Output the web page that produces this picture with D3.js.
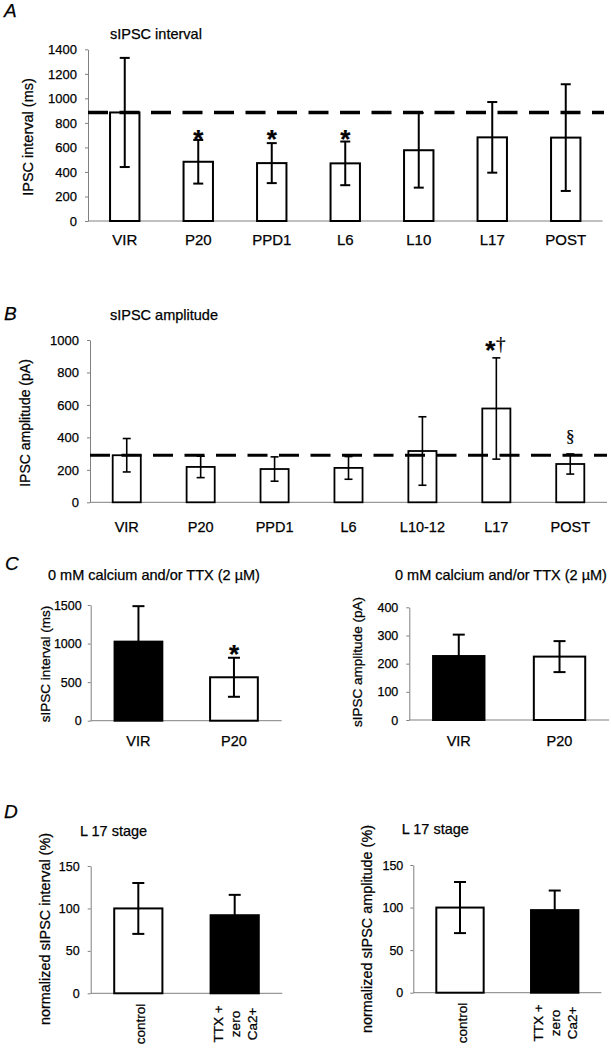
<!DOCTYPE html>
<html><head><meta charset="utf-8">
<script src="https://cdn.jsdelivr.net/npm/d3@7"></script>
<style>
body{margin:0;background:#fff;}
svg{display:block;font-family:"Liberation Sans",Arial,sans-serif;}
svg text{stroke:#000;stroke-width:0.25px;}
</style></head><body>
<svg id="chart" width="611" height="1054"></svg>
<script>
// ---------- data ----------
const intervalStages = ["VIR","P20","PPD1","L6","L10","L17","POST"];
const intervalMeans = [885, 483, 472, 470, 577, 682, 680];
const intervalErrors = [445, 178, 163, 178, 305, 288, 435];
const intervalVirgin = 885;
const intervalTicks = [0,200,400,600,800,1000,1200,1400];
const intervalMarks = ["","*","*","*","","",""];

const amplitudeStages = ["VIR","P20","PPD1","L6","L10-12","L17","POST"];
const amplitudeMeans = [290,218,205,212,316,578,236];
const amplitudeErrors = [103,66,75,70,211,312,62];
const amplitudeVirgin = 290;
const amplitudeTicks = [0,200,400,600,800,1000];

const minisGroups = ["VIR","P20"];
const minisIntervalMeans = [1025,563];
const minisIntervalErrors = [460,253];
const minisIntervalTicks = [0,500,1000,1500];
const minisAmplitudeMeans = [227,225];
const minisAmplitudeErrors = [76,55];
const minisAmplitudeTicks = [0,100,200,300,400];

const l17Conditions = ["control","TTX + zero Ca2+"];
const l17ConditionLines = [["control"],["TTX +","zero","Ca2+"]];
const l17IntervalMeans = [100,92];
const l17IntervalErrors = [30,24];
const l17AmplitudeMeans = [100,97];
const l17AmplitudeErrors = [30,23];
const l17Ticks = [0,50,100,150];

// ---------- drawing ----------
const svg = d3.select("#chart");
const FONT = '"Liberation Sans", Arial, sans-serif';
const SERIF = '"Liberation Serif", "Times New Roman", serif';

function panel(c){
  const g = svg.append("g");
  const x = d3.scaleBand().domain(c.cats).range([c.x0, c.x1]).paddingInner(c.pi).paddingOuter(c.po);
  const y = d3.scaleLinear().domain([0, c.yMax]).range([c.yBottom, c.yTop]);
  const ya = g.append("g").attr("transform", `translate(${c.x0},0)`)
    .call(d3.axisLeft(y).tickValues(c.ticks).tickSize(3).tickSizeOuter(0).tickPadding(c.tickPad).tickFormat(d3.format("d")));
  ya.attr("font-family", FONT).attr("font-size", c.tickFont);
  ya.select(".domain").attr("stroke", "#808080");
  ya.selectAll(".tick line").attr("stroke", "#808080");
  ya.selectAll(".tick text").attr("fill", "#000");
  // x baseline
  g.append("line").attr("x1", c.x0).attr("x2", c.x1).attr("y1", y(0)).attr("y2", y(0))
    .attr("stroke", "#808080").attr("stroke-width", 1);
  // bars
  g.selectAll("rect.bar").data(c.means).join("rect").attr("class","bar")
    .attr("x", (d,i) => x(c.cats[i])).attr("y", d => y(d))
    .attr("width", x.bandwidth()).attr("height", d => y(0) - y(d))
    .attr("fill", (d,i) => c.fills[i]).attr("stroke", "#000").attr("stroke-width", c.barStroke);
  // error bars
  const eb = g.selectAll("g.err").data(c.means).join("g").attr("class","err")
    .attr("stroke", "#000").attr("stroke-width", c.errStroke);
  eb.each(function(d,i){
    const cx = x(c.cats[i]) + x.bandwidth()/2;
    const e = c.errs[i];
    const s = d3.select(this);
    s.append("line").attr("x1",cx).attr("x2",cx).attr("y1",y(d-e)).attr("y2",y(d+e));
    s.append("line").attr("x1",cx-c.cap/2).attr("x2",cx+c.cap/2).attr("y1",y(d+e)).attr("y2",y(d+e));
    s.append("line").attr("x1",cx-c.cap/2).attr("x2",cx+c.cap/2).attr("y1",y(d-e)).attr("y2",y(d-e));
  });
  // reference dashed line
  if (c.ref !== undefined){
    g.append("line").attr("x1", c.x0).attr("x2", c.refEnd).attr("y1", y(c.ref)).attr("y2", y(c.ref))
      .attr("stroke","#000").attr("stroke-width", c.refWidth).attr("stroke-dasharray","20,11.5");
  }
  // category labels
  if (!c.rotLines){
    g.selectAll("text.cat").data(c.cats).join("text").attr("class","cat")
      .attr("x", d => x(d) + x.bandwidth()/2).attr("y", c.catY)
      .attr("text-anchor","middle").attr("font-family",FONT).attr("font-size",c.catFont).attr("fill","#000")
      .text(d => d);
  } else {
    c.cats.forEach((cat,i) => {
      const lines = c.rotLines[i];
      const cx = x(cat) + x.bandwidth()/2;
      const offs = lines.length === 1 ? [7] : [-12, 5, 22];
      lines.forEach((t,j) => {
        g.append("text").attr("transform", `translate(${cx+offs[j]},${c.catY}) rotate(-90)`)
          .attr("text-anchor","middle").attr("font-family",FONT).attr("font-size",c.catFont).attr("fill","#000")
          .text(t);
      });
    });
  }
  // title
  g.append("text").attr("x", c.titleX).attr("y", c.titleY).attr("font-family",FONT)
    .attr("font-size", c.titleFont).attr("fill","#000").text(c.title);
  // y label
  g.append("text").attr("transform", `translate(${c.ylabX},${c.ylabY}) rotate(-90)`)
    .attr("text-anchor","middle").attr("font-family",FONT).attr("font-size",c.ylabFont).attr("fill","#000")
    .text(c.ylab);
  // significance marks
  (c.marks || []).forEach(m => {
    const cx = x(c.cats[m.i]) + x.bandwidth()/2 + (m.dx || 0);
    g.append("text").attr("x", cx).attr("y", m.y).attr("text-anchor","middle")
      .attr("font-family", m.serif ? SERIF : FONT).attr("font-weight", m.bold ? "bold" : "normal")
      .attr("font-size", m.size).attr("fill","#000").text(m.t);
  });
  return {x, y};
}

function letter(t, xx, yy){
  svg.append("text").attr("x",xx).attr("y",yy).attr("font-family",FONT).attr("font-style","italic")
    .attr("font-size",19).attr("fill","#000").text(t);
}

// Panel A
letter("A", 4, 17);
panel({
  cats: intervalStages, means: intervalMeans, errs: intervalErrors,
  fills: intervalStages.map(() => "#fff"),
  x0: 88, x1: 602.5, pi: 0.6, po: 0.3, yMax: 1400, yBottom: 221, yTop: 49.3,
  ticks: intervalTicks, tickFont: 13, tickPad: 8,
  barStroke: 2, errStroke: 2, cap: 10,
  ref: intervalVirgin, refEnd: 604, refWidth: 3.5,
  catY: 245, catFont: 15,
  title: "sIPSC interval", titleX: 110, titleY: 39, titleFont: 14.5,
  ylab: "IPSC interval (ms)", ylabX: 33, ylabY: 137, ylabFont: 14.5,
  marks: intervalMarks.map((t,i) => ({t, i, y: 148, size: 26, bold: true})).filter(m => m.t)
});

// Panel B
letter("B", 4, 320);
panel({
  cats: amplitudeStages, means: amplitudeMeans, errs: amplitudeErrors,
  fills: amplitudeStages.map(() => "#fff"),
  x0: 90, x1: 607, pi: 0.62, po: 0.307, yMax: 1000, yBottom: 502.3, yTop: 340,
  ticks: amplitudeTicks, tickFont: 13, tickPad: 8,
  barStroke: 1.8, errStroke: 1.6, cap: 8,
  ref: amplitudeVirgin, refEnd: 607, refWidth: 3.2,
  catY: 532, catFont: 14.5,
  title: "sIPSC amplitude", titleX: 110, titleY: 320, titleFont: 14.5,
  ylab: "IPSC amplitude (pA)", ylabX: 30, ylabY: 423, ylabFont: 14,
  marks: [
    {t: "*", i: 5, dx: -6, y: 359, size: 26, bold: true},
    {t: "\u2020", i: 5, dx: 4.5, y: 350, size: 19, serif: true},
    {t: "\u00a7", i: 6, y: 442, size: 17, serif: true}
  ]
});

// Panel C
letter("C", 5, 570);
panel({
  cats: minisGroups, means: minisIntervalMeans, errs: minisIntervalErrors,
  fills: ["#000", "#fff"],
  x0: 90.7, x1: 281.7, pi: 0.5, po: 0.25, yMax: 1500, yBottom: 720.7, yTop: 605,
  ticks: minisIntervalTicks, tickFont: 12.5, tickPad: 6,
  barStroke: 2, errStroke: 2, cap: 12,
  catY: 746, catFont: 14.5,
  title: "0 mM calcium and/or TTX (2 \u00b5M)", titleX: 48, titleY: 580, titleFont: 14.5,
  ylab: "sIPSC interval (ms)", ylabX: 50, ylabY: 664, ylabFont: 13.5,
  marks: [{t: "*", i: 1, y: 663, size: 26, bold: true}]
});
panel({
  cats: minisGroups, means: minisAmplitudeMeans, errs: minisAmplitudeErrors,
  fills: ["#000", "#fff"],
  x0: 409.3, x1: 609, pi: 0.49, po: 0.236, yMax: 400, yBottom: 720, yTop: 607.3,
  ticks: minisAmplitudeTicks, tickFont: 12.5, tickPad: 8,
  barStroke: 2, errStroke: 2, cap: 12,
  catY: 746, catFont: 14.5,
  title: "0 mM calcium and/or TTX (2 \u00b5M)", titleX: 395, titleY: 580, titleFont: 14.5,
  ylab: "sIPSC amplitude (pA)", ylabX: 362, ylabY: 662, ylabFont: 13.5
});

// Panel D
letter("D", 4, 818);
panel({
  cats: l17Conditions, means: l17IntervalMeans, errs: l17IntervalErrors,
  fills: ["#fff", "#000"],
  x0: 90.7, x1: 282.3, pi: 0.5, po: 0.244, yMax: 150, yBottom: 993.3, yTop: 866,
  ticks: l17Ticks, tickFont: 12.5, tickPad: 8,
  barStroke: 2, errStroke: 2, cap: 12,
  catY: 1024, catFont: 13.5, rotLines: l17ConditionLines,
  title: "L 17 stage", titleX: 80, titleY: 836, titleFont: 14.5,
  ylab: "normalized sIPSC interval (%)", ylabX: 50, ylabY: 929, ylabFont: 14.4
});
panel({
  cats: l17Conditions, means: l17AmplitudeMeans, errs: l17AmplitudeErrors,
  fills: ["#fff", "#000"],
  x0: 413.3, x1: 601.4, pi: 0.5, po: 0.243, yMax: 150, yBottom: 992.7, yTop: 865,
  ticks: l17Ticks, tickFont: 12.5, tickPad: 7,
  barStroke: 2, errStroke: 2, cap: 12,
  catY: 1023, catFont: 13.5, rotLines: l17ConditionLines,
  title: "L 17 stage", titleX: 401.7, titleY: 834, titleFont: 14.5,
  ylab: "normalized sIPSC amplitude (%)", ylabX: 372, ylabY: 929, ylabFont: 14.4
});
</script>
</body></html>
